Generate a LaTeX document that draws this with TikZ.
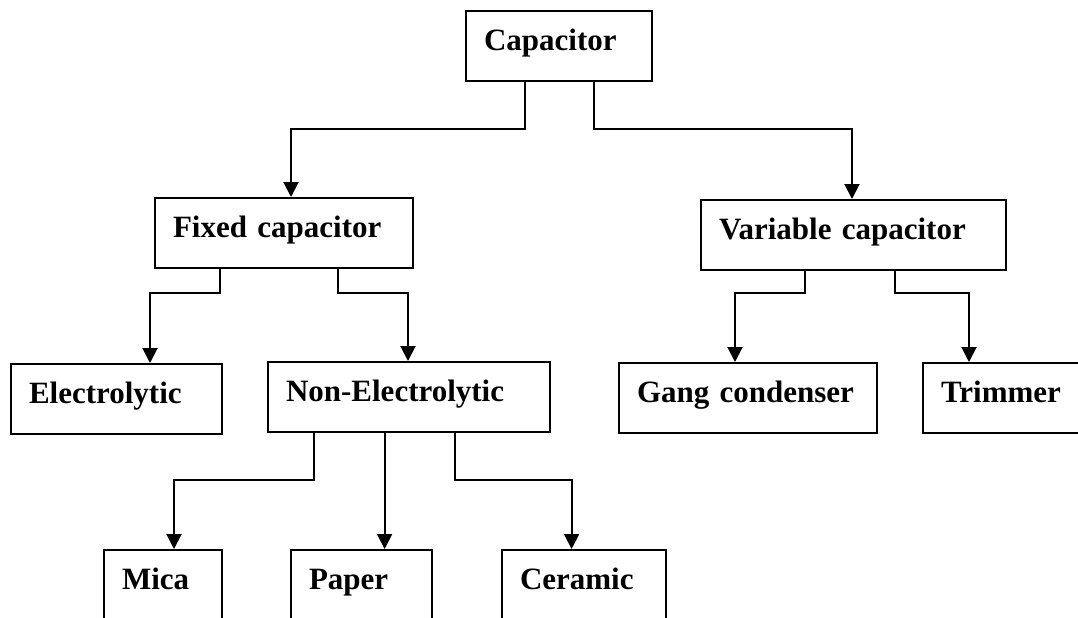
\documentclass[tikz,border=0pt]{standalone}
\usepackage{fontspec}
\setmainfont{Liberation Serif}
\usetikzlibrary{arrows.meta}
\begin{document}
\begin{tikzpicture}[x=0.5pt,y=-0.5pt,
  box/.style={draw, line width=1pt, rectangle, anchor=north west,
    inner xsep=9pt, inner ysep=0pt, text height=19.5pt, text depth=15.5pt,
    align=left, font=\fontsize{15.5pt}{18pt}\selectfont\bfseries},
  arr/.style={line width=1pt, -{Triangle[width=7.5pt,length=7.5pt]}}]
\useasboundingbox (0,0) rectangle (1078,617);
\fill[white] (0,0) rectangle (1078,617);
% boxes (width in px /2 - 18pt = text width)
\node[box, text width=75pt]   (cap)   at (465,10)  {Capacitor};
\node[box, text width=111pt]  (fix)   at (154,197) {Fixed capacitor};
\node[box, text width=134.5pt](var)   at (700,199) {Variable capacitor};
\node[box, text width=87.5pt] (elec)  at (10,363)  {Electrolytic};
\node[box, text width=123pt]  (non)   at (267,361) {Non-Electrolytic};
\node[box, text width=111pt]  (gang)  at (618,362) {Gang condenser};
\node[box, text width=82pt]   (trim)  at (922,362) {Trimmer};
\node[box, text width=41pt]   (mica)  at (103,549) {Mica};
\node[box, text width=52.5pt] (paper) at (290,549) {Paper};
\node[box, text width=64pt]   (cer)   at (501,549) {Ceramic};
% connectors
\draw[arr] ([xshift=30pt]cap.south west) -- ++(0,47) -| ([xshift=68.5pt]fix.north west);
\draw[arr] ([xshift=64.5pt]cap.south west) -- ++(0,47) -| ([xshift=76pt]var.north west);
\draw[arr] ([xshift=33pt]fix.south west) -- ++(0,24) -| ([xshift=70pt]elec.north west);
\draw[arr] ([xshift=91.75pt]fix.south west) -- ++(0,24) -| ([xshift=70.5pt]non.north west);
\draw[arr] ([xshift=52.5pt]var.south west) -- ++(0,22) -| ([xshift=58.5pt]gang.north west);
\draw[arr] ([xshift=97.5pt]var.south west) -- ++(0,22) -| ([xshift=23.5pt]trim.north west);
\draw[arr] ([xshift=23.5pt]non.south west) -- ++(0,47) -| ([xshift=35.5pt]mica.north west);
\draw[arr] ([xshift=58.8pt]non.south west) coordinate (pstem) -- (pstem |- paper.north);
\draw[arr] ([xshift=93.75pt]non.south west) -- ++(0,47) -| ([xshift=35.3pt]cer.north west);
\end{tikzpicture}
\end{document}
